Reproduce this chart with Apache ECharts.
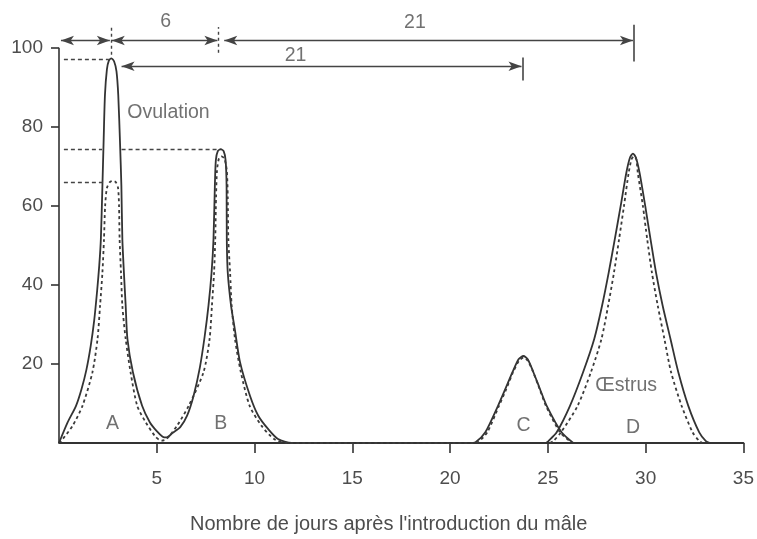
<!DOCTYPE html>
<html>
<head>
<meta charset="utf-8">
<script src="https://cdn.jsdelivr.net/npm/echarts@6/dist/echarts.min.js"></script>
<style>
html,body{margin:0;padding:0;background:#fff;}
#chart{width:757px;height:539px;}
</style>
</head>
<body>
<div id="chart"></div>
<script>
// ---- Data ----
const xTicks = [5, 10, 15, 20, 25, 30, 35];
const yTicks = [20, 40, 60, 80, 100];

// Solid curve: peaks A, B, then C
const solidABC_x = [0, 0.44, 0.87, 1.15, 1.4, 1.62, 1.8, 1.95, 2.06, 2.14, 2.22, 2.28, 2.35, 2.45, 2.55, 2.68, 2.82, 2.94, 3.03, 3.12, 3.19, 3.24, 3.32, 3.41, 3.5, 3.78, 4.25, 4.65, 5.0, 5.3, 5.5,
  5.8, 6.2, 6.55, 6.88, 7.2, 7.45, 7.65, 7.8, 7.9, 7.97, 8.02, 8.12, 8.27, 8.42, 8.52, 8.57, 8.58, 8.63, 8.8, 8.99, 9.26, 9.77, 10.19, 10.7, 11.2, 11.9, 21.0,
  21.3, 21.8, 22.45, 22.82, 23.19, 23.5, 23.75, 23.97, 24.26, 24.6, 24.94, 25.7, 26.3];
const solidABC_y = [0, 5.2, 9.4, 13.6, 18.5, 24.5, 31, 38.5, 45, 51.5, 65, 76, 88, 94.5, 96.7, 97.3, 96.5, 94, 88, 76, 65, 51.5, 43.1, 34.7, 26.3, 17.9, 9.4, 5.2, 3.0, 1.6, 1.4,
  2.5, 4.0, 6.9, 11.9, 19.0, 27.0, 35.0, 43.0, 51.5, 65, 71.5, 73.8, 74.3, 73.8, 71.5, 65, 51.5, 43.1, 34.7, 28.8, 20.4, 11.9, 6.9, 3.5, 1.0, 0, 0,
  0.2, 2.7, 9.4, 13.6, 17.9, 21.2, 22.0, 21.2, 17.9, 13.6, 9.4, 2.7, 0];

// Solid curve: peak D
const solidD_x = [24.9, 25.03, 25.45, 26.13, 26.8, 27.37, 27.77, 28.11, 28.42, 28.72, 29.01, 29.2, 29.35, 29.5, 29.69, 29.98, 30.25, 30.53, 30.87, 31.27, 31.67, 32.18, 32.74, 33.08, 33.3];
const solidD_y = [0, 0.5, 2.7, 9.4, 17.9, 26.3, 34.7, 43.1, 51.5, 59.9, 68.3, 72.2, 73.2, 72.2, 68.3, 59.9, 51.5, 43.1, 34.7, 26.3, 17.9, 9.4, 2.7, 0.5, 0];

// Dashed curve: peaks A, B, then C
const dashedABC_x = [0, 0.19, 0.7, 1.2, 1.71, 1.97, 2.1, 2.22, 2.3, 2.36, 2.45, 2.6, 2.75, 2.9, 3.02, 3.07, 3.1, 3.17, 3.24, 3.41, 3.66, 4.0, 4.44, 4.95, 5.25,
  5.5, 6.04, 6.63, 7.39, 7.7, 7.82, 7.93, 7.99, 8.03, 8.08, 8.18, 8.3, 8.45, 8.58, 8.63, 8.66, 8.75, 8.83, 9.0, 9.3, 9.75, 10.35, 11.0, 11.6, 21.2,
  21.45, 21.9, 22.5, 22.87, 23.22, 23.52, 23.75, 23.97, 24.25, 24.58, 24.9, 25.62, 26.2];
const dashedABC_y = [0, 1, 4.4, 9.4, 17.9, 26.3, 34.7, 43.1, 51.5, 60, 64.5, 66, 66.3, 66, 64.5, 60, 51.5, 43.1, 34.7, 26.3, 17.9, 9.4, 5.2, 1.5, 0.6,
  1.0, 4.4, 9.4, 17.9, 26.3, 34.7, 43.1, 51.5, 62, 69, 72, 72.5, 72, 69, 62, 51.5, 43.1, 34.7, 26.3, 17.9, 9.4, 4.4, 1.0, 0, 0,
  0.3, 2.7, 9.4, 13.6, 17.9, 20.8, 21.6, 20.8, 17.9, 13.6, 9.4, 2.7, 0.2];

// Dashed curve: peak D
const dashedD_x = [25.1, 25.28, 25.67, 26.52, 27.2, 27.74, 28.08, 28.38, 28.64, 28.89, 29.13, 29.28, 29.4, 29.52, 29.6, 29.86, 30.08, 30.32, 30.62, 30.96, 31.3, 31.84, 32.4, 32.74, 32.9];
const dashedD_y = [0, 0.5, 2.7, 9.4, 17.9, 26.3, 34.7, 43.1, 51.5, 59.9, 68.3, 71.8, 72.5, 71.8, 68.3, 59.9, 51.5, 43.1, 34.7, 26.3, 17.9, 9.4, 2.7, 0.5, 0];

// Annotation texts (data coordinates)
const noteText = ['6', '21', '21', 'Ovulation', 'Œstrus', 'A', 'B', 'C', 'D'];
const noteX = [5.45, 18.2, 12.1, 5.6, 29.0, 2.73, 8.27, 23.75, 29.35];
const noteY = [106.6, 106.4, 98.0, 83.6, 14.5, 4.8, 4.8, 4.4, 4.0];

// Interval arrows (data coordinates): [x1, x2, y]
const arrowSpans = [[0.1, 2.6, 101.8], [2.7, 8.1, 101.8], [8.45, 29.35, 101.8], [3.2, 23.65, 95.3]];
// End bars: [x, y1, y2]
const endBars = [[29.4, 96.5, 105.8], [23.7, 91.7, 97.5]];
// Dashed peak markers: [x, y1, y2]
const peakMarks = [[2.65, 98.2, 105.3], [8.15, 98.7, 105.2]];
// Dotted level lines: [x1, x2, y]
const levelLines = [[0.25, 2.55, 97.1], [0.25, 2.2, 74.2], [3.2, 8.1, 74.2], [0.25, 2.4, 66.0]];

// ---- Build ----
const zip = (xs, ys) => xs.map((x, i) => [x, ys[i]]);
const INK = '#333';
const TXT = '#4d4d4d';
const FONT = "'Liberation Sans', Arial, sans-serif";

const mlData = [];
// y-axis line
mlData.push([{coord: [0, 0], symbol: 'none', lineStyle: {type: 'solid', width: 1.6, color: INK}}, {coord: [0, 100], symbol: 'none'}]);
arrowSpans.forEach(s => mlData.push([
  {coord: [s[0], s[2]], symbol: 'arrow', symbolSize: [7, 13], lineStyle: {type: 'solid', width: 1.4, color: '#444'}},
  {coord: [s[1], s[2]], symbol: 'arrow', symbolSize: [7, 13]}
]));
endBars.forEach(b => mlData.push([
  {coord: [b[0], b[1]], symbol: 'none', lineStyle: {type: 'solid', width: 1.6, color: '#444'}},
  {coord: [b[0], b[2]], symbol: 'none'}
]));
peakMarks.forEach(b => mlData.push([
  {coord: [b[0], b[1]], symbol: 'none', lineStyle: {type: [3, 3], width: 1.4, color: '#444'}},
  {coord: [b[0], b[2]], symbol: 'none'}
]));
levelLines.forEach(l => mlData.push([
  {coord: [l[0], l[2]], symbol: 'none', lineStyle: {type: [4, 3], width: 1.3, color: '#444'}},
  {coord: [l[1], l[2]], symbol: 'none'}
]));

const chart = echarts.init(document.getElementById('chart'), null, {renderer: 'canvas'});
const lineBase = {
  type: 'line', showSymbol: false, symbol: 'none', smooth: 0.25,
  clip: false, silent: true
};
chart.setOption({
  animation: false,
  backgroundColor: '#fff',
  textStyle: {fontFamily: FONT},
  grid: {left: 59, right: 11, top: 16, bottom: 95, containLabel: false},
  xAxis: {
    type: 'value', min: 0, max: 35, interval: 5,
    name: "Nombre de jours après l'introduction du mâle",
    nameLocation: 'middle', nameGap: 71,
    nameTextStyle: {fontSize: 20, color: TXT, fontFamily: FONT, padding: [0, 25, 0, 0]},
    axisLine: {show: true, onZero: false, lineStyle: {color: INK, width: 1.8}},
    axisTick: {show: true, inside: false, length: 10, customValues: xTicks, lineStyle: {color: INK, width: 1.6}},
    axisLabel: {customValues: xTicks, margin: 26, fontSize: 19, color: TXT, fontFamily: FONT},
    splitLine: {show: false}
  },
  yAxis: {
    type: 'value', min: 0, max: 108,
    axisLine: {show: false},
    axisTick: {show: true, inside: false, length: 8, customValues: yTicks, lineStyle: {color: INK, width: 1.6}},
    axisLabel: {customValues: yTicks, margin: 16, fontSize: 19, color: TXT, fontFamily: FONT},
    splitLine: {show: false}
  },
  series: [
    Object.assign({}, lineBase, {
      name: 'solidABC', data: zip(solidABC_x, solidABC_y),
      lineStyle: {color: INK, width: 1.8},
      markLine: {silent: true, symbol: ['none', 'none'], label: {show: false}, data: mlData, animation: false}
    }),
    Object.assign({}, lineBase, {name: 'solidD', data: zip(solidD_x, solidD_y), lineStyle: {color: INK, width: 1.8}}),
    Object.assign({}, lineBase, {name: 'dashedABC', data: zip(dashedABC_x, dashedABC_y), lineStyle: {color: '#3a3a3a', width: 1.8, type: [3, 3]}}),
    Object.assign({}, lineBase, {name: 'dashedD', data: zip(dashedD_x, dashedD_y), lineStyle: {color: '#3a3a3a', width: 1.8, type: [3, 3]}}),
    {
      type: 'scatter', silent: true, symbolSize: 0,
      data: noteText.map((t, i) => ({value: [noteX[i], noteY[i]], name: t})),
      label: {
        show: true, position: 'inside', formatter: p => p.name,
        fontSize: 19.5, color: TXT, fontFamily: FONT
      }
    }
  ]
});
</script>
</body>
</html>
